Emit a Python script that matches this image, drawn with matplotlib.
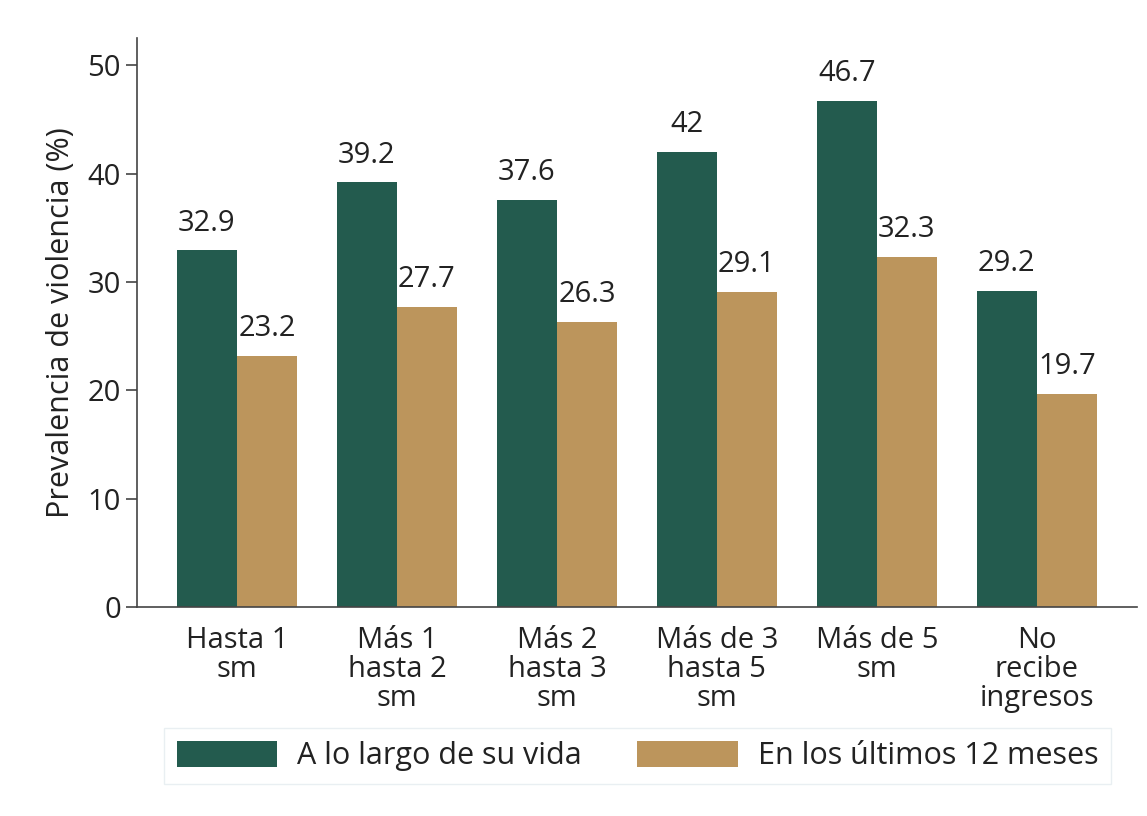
import numpy as np
import matplotlib.pyplot as plt

# datos
categorias = ["Hasta 1\nsm", "Más 1\nhasta 2\nsm", "Más 2\nhasta 3\nsm",
              "Más de 3\nhasta 5\nsm", "Más de 5\nsm", "No\nrecibe\ningresos"]
vida = [32.9, 39.2, 37.6, 42, 46.7, 29.2]
ultimos_12 = [23.2, 27.7, 26.3, 29.1, 32.3, 19.7]
series = ["A lo largo de su vida", "En los últimos 12 meses"]

verde = "#235b4e"
dorado = "#bc955c"
texto = "#222222"

plt.rcParams['font.family'] = ['Open Sans', 'DejaVu Sans']

fig = plt.figure(figsize=(11.47, 8.16), dpi=100)
ax = fig.add_axes([0.1194, 0.2561, 0.8718, 0.6973])

x = np.arange(len(categorias))
ancho = 0.375
b1 = ax.bar(x - ancho / 2, vida, ancho, color=verde, label=series[0])
b2 = ax.bar(x + ancho / 2, ultimos_12, ancho, color=dorado, label=series[1])
ax.bar_label(b1, labels=[f"{v:g}" for v in vida], padding=9, fontsize=21, color=texto)
ax.bar_label(b2, labels=[f"{v:g}" for v in ultimos_12], padding=9, fontsize=21, color=texto)

ax.set_xlim(-0.625, 5.625)
ax.set_ylim(0, 52.5)
ax.set_yticks([0, 10, 20, 30, 40, 50])
ax.set_xticks(x)
ax.set_xticklabels(categorias, fontsize=21, color=texto, linespacing=1.0)
ax.tick_params(axis='y', labelsize=21, labelcolor=texto, length=8, width=1.2, color="#444444")
ax.tick_params(axis='x', length=0, pad=14)
ax.set_ylabel("Prevalencia de violencia (%)", fontsize=22, color=texto, labelpad=8)

for s in ['top', 'right']:
    ax.spines[s].set_visible(False)
for s in ['left', 'bottom']:
    ax.spines[s].set_color("#444444")
    ax.spines[s].set_linewidth(1.2)

fig.legend(loc='center', bbox_to_anchor=(0.5558, 0.0735), ncol=2, fontsize=22,
           frameon=True, fancybox=False, edgecolor="#e4ecef", handlelength=3.3,
           handleheight=0.95, handletextpad=0.65, columnspacing=1.8, borderpad=0.4,
           borderaxespad=0.3, labelcolor=texto)

fig.savefig("out.png", dpi=100, facecolor="white")
